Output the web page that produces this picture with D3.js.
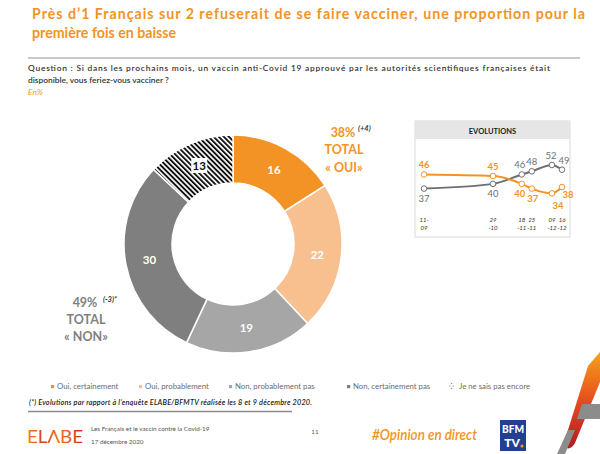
<!DOCTYPE html>
<html><head><meta charset="utf-8">
<script src="https://cdn.jsdelivr.net/npm/d3@7"></script>
<style>html,body{margin:0;padding:0;background:#fff;}svg{display:block;font-family:Lato,"Open Sans",sans-serif;}</style>
</head><body>
<script>
// ---- DATA ----
const categories = ["Oui, certainement","Oui, probablement","Non, probablement pas","Non, certainement pas","Je ne sais pas encore"];
const values = [16, 22, 19, 30, 13];
const sliceColors = ["#F39325","#F9C08F","#A6A6A6","#7F7F7F","hatch"];
const evoDates = ["2020-09-11","2020-10-29","2020-11-18","2020-11-25","2020-12-09","2020-12-16"];
const evoDateLabels = [["11-","09"],["29","-10"],["18","-11"],["25","-11"],["09","-12"],["16","-12"]];
const evoOui = [46, 45, 40, 37, 34, 38];
const evoNon = [37, 40, 46, 48, 52, 49];
const titleLines = ["Près d’1 Français sur 2 refuserait de se faire vacciner, une proportion pour la","première fois en baisse"];
const questionLines = ["Question : Si dans les prochains mois, un vaccin anti-Covid 19 approuvé par les autorités scientifiques françaises était","disponible, vous feriez-vous vacciner ?"];

const W = 600, H = 454;
const orange = "#F39325", grey = "#7F7F7F";
const svg = d3.select("body").append("svg").attr("width", W).attr("height", H);
const defs = svg.append("defs");
const pat = defs.append("pattern").attr("id","hatch").attr("patternUnits","userSpaceOnUse")
  .attr("width",3.6).attr("height",3.6).attr("patternTransform","rotate(-45)");
pat.append("rect").attr("width",3.6).attr("height",3.6).attr("fill","#fff");
pat.append("rect").attr("width",1.9).attr("height",3.6).attr("fill","#111");
const lg = defs.append("linearGradient").attr("id","elabe").attr("x1","0").attr("x2","1");
lg.append("stop").attr("offset","0").attr("stop-color","#F08A1C");
lg.append("stop").attr("offset","0.3").attr("stop-color","#E0301E");
lg.append("stop").attr("offset","0.55").attr("stop-color","#F07A1C");
lg.append("stop").attr("offset","1").attr("stop-color","#D8281E");
const sg = defs.append("linearGradient").attr("id","stripe").attr("x1","0").attr("y1","0").attr("x2","0").attr("y2","1");
sg.append("stop").attr("offset","0").attr("stop-color","#F7A21B");
sg.append("stop").attr("offset","0.55").attr("stop-color","#E2461F");
sg.append("stop").attr("offset","1").attr("stop-color","#B01C22");

// ---- TITLE ----
svg.append("text").attr("x",32).attr("y",19).attr("fill",orange).attr("font-weight","bold")
  .attr("font-size",14.2).attr("textLength",553).attr("lengthAdjust","spacing").text(titleLines[0]);
svg.append("text").attr("x",32).attr("y",38).attr("fill",orange).attr("font-weight","bold")
  .attr("font-size",14.2).text(titleLines[1]);
svg.append("line").attr("x1",28).attr("x2",580).attr("y1",58).attr("y2",58).attr("stroke","#7a7a7a").attr("stroke-width",0.8);
svg.append("text").attr("x",28).attr("y",71).attr("fill","#333").attr("font-weight",600).attr("font-size",8.4)
  .attr("textLength",522).attr("lengthAdjust","spacing").text(questionLines[0]);
svg.append("text").attr("x",28).attr("y",83).attr("fill","#333").attr("font-weight",600).attr("font-size",8.4).text(questionLines[1]);
svg.append("text").attr("x",28).attr("y",95).attr("fill",orange).attr("font-style","italic").attr("font-size",8.4).text("En%");

// ---- DONUT ----
const cx = 233, cy = 244, rOut = 109, rIn = 61;
const pie = d3.pie().sort(null).value(d => d)(values);
const arc = d3.arc().innerRadius(rIn).outerRadius(rOut);
const labelArc = d3.arc().innerRadius((rIn+rOut)/2).outerRadius((rIn+rOut)/2);
const g = svg.append("g").attr("transform",`translate(${cx},${cy})`);
g.selectAll("path.slice").data(pie).join("path").attr("class","slice").attr("d",arc)
  .attr("fill",(d,i)=> sliceColors[i]==="hatch" ? "url(#hatch)" : sliceColors[i])
  .attr("stroke","#fff").attr("stroke-width",1.5);
pie.forEach((d,i)=>{
  const [x,y] = labelArc.centroid(d);
  const isHatch = sliceColors[i]==="hatch";
  if (isHatch) g.append("rect").attr("x",x-8).attr("y",y-8).attr("width",16).attr("height",15).attr("fill","#fff");
  g.append("text").attr("x",x).attr("y",y+4).attr("text-anchor","middle").attr("font-weight","bold")
    .attr("font-size",11.5).attr("fill",isHatch?"#111":"#fff").text(values[i]);
});

// totals
const totOui = values[0]+values[1], totNon = values[2]+values[3];
const tO = svg.append("g").attr("fill",orange).attr("font-weight","bold").attr("font-size",12.5).attr("text-anchor","middle");
tO.append("text").attr("x",343).attr("y",137).text(totOui+"%");
tO.append("text").attr("x",344).attr("y",154).text("TOTAL");
tO.append("text").attr("x",344).attr("y",172).text("« OUI»");
svg.append("text").attr("x",358).attr("y",131).attr("font-size",7.5).attr("font-style","italic").attr("font-weight","bold").attr("fill","#333").text("(+4)");
const tN = svg.append("g").attr("fill",grey).attr("font-weight","bold").attr("font-size",12.5).attr("text-anchor","middle");
tN.append("text").attr("x",85).attr("y",307).text(totNon+"%");
tN.append("text").attr("x",86).attr("y",324).text("TOTAL");
tN.append("text").attr("x",86).attr("y",341).text("« NON»");
svg.append("text").attr("x",103).attr("y",302).attr("font-size",7.5).attr("font-style","italic").attr("font-weight","bold").attr("fill","#333").text("(-3)*");

// ---- EVOLUTIONS ----
const px0 = 415, px1 = 570, py0 = 121, py1 = 237;
svg.append("rect").attr("x",px0).attr("y",py0).attr("width",px1-px0).attr("height",py1-py0).attr("fill","#fff").attr("stroke","#D9D9D9").attr("stroke-width",1);
svg.append("rect").attr("x",px0).attr("y",py0).attr("width",px1-px0).attr("height",18).attr("fill","#E6E6E6");
svg.append("text").attr("x",(px0+px1)/2).attr("y",133.5).attr("text-anchor","middle").attr("font-weight","bold").attr("font-size",7.5).attr("fill","#222").text("EVOLUTIONS");
const parse = d3.timeParse("%Y-%m-%d");
const dates = evoDates.map(parse);
const x = d3.scaleTime().domain(d3.extent(dates)).range([424,562]);
const y = d3.scaleLinear().domain([30,56]).range([199.6,158.7]);
const line = d3.line().x((d,i)=>x(dates[i])).y(d=>y(d)).curve(d3.curveMonotoneX);
function series(vals,color,labelPos,labelBold){
  svg.append("path").attr("d",line(vals)).attr("fill","none").attr("stroke",color).attr("stroke-width",2);
  svg.selectAll(null).data(vals).join("circle").attr("cx",(d,i)=>x(dates[i])).attr("cy",d=>y(d)).attr("r",2.8)
    .attr("fill","#fff").attr("stroke",color).attr("stroke-width",1);
  vals.forEach((v,i)=>{
    const p = labelPos[i];
    svg.append("text").attr("x",x(dates[i])+p[0]).attr("y",y(v)+p[1]).attr("text-anchor","middle")
      .attr("font-size",9.5).attr("font-weight",labelBold?"bold":"normal").attr("fill",color).text(v);
  });
}
series(evoNon, "#6F6F6F", [[0,13],[0,13],[-2,-6],[0,-6],[-1,-6],[2,-6]], false);
series(evoOui, orange, [[0,-6],[0,-6],[-2,13],[1,13],[6,16],[6,11]], true);
evoDateLabels.forEach((l,i)=>{
  l.forEach((s,j)=> svg.append("text").attr("x",x(dates[i])).attr("y",222+j*7.5).attr("text-anchor","middle")
    .attr("font-size",6).attr("font-style","italic").attr("fill","#333").text(s));
});

// ---- LEGEND ----
const legX = [51,139,229,347,450];
categories.forEach((c,i)=>{
  const lgG = svg.append("g").attr("transform",`translate(${legX[i]},389)`);
  if (sliceColors[i]==="hatch") {
    lgG.append("text").attr("x",-1).attr("y",0).attr("font-size",8).attr("fill","#333").text("⁛");
    lgG.append("text").attr("x",9).attr("y",0).attr("font-size",7.8).attr("fill","#6b6b6b").text(c);
  } else {
    lgG.append("rect").attr("x",0).attr("y",-4).attr("width",3.2).attr("height",3.2).attr("fill",sliceColors[i]);
    lgG.append("text").attr("x",6).attr("y",0).attr("font-size",7.8).attr("fill","#6b6b6b").text(c);
  }
});

// ---- FOOTNOTE / FOOTER ----
svg.append("text").attr("x",29).attr("y",405).attr("font-size",7.3).attr("font-style","italic").attr("font-weight",600).attr("fill","#222")
  .attr("textLength",283).attr("lengthAdjust","spacing")
  .text("(*) Evolutions par rapport à l’enquête ELABE/BFMTV réalisée les 8 et 9 décembre 2020.");
svg.append("line").attr("x1",28).attr("x2",292).attr("y1",411.5).attr("y2",411.5).attr("stroke","#8a8a8a").attr("stroke-width",1.3);
svg.append("text").attr("x",27).attr("y",443).attr("font-size",17).attr("font-weight",400)
  .attr("fill","url(#elabe)").attr("textLength",56).attr("lengthAdjust","spacingAndGlyphs").text("ELΛBE");
svg.append("text").attr("x",91).attr("y",431).attr("font-size",6.3).attr("fill","#555").text("Les Français et le vaccin contre la Covid-19");
svg.append("text").attr("x",91).attr("y",444).attr("font-size",6.3).attr("fill","#555").text("17 décembre 2020");
svg.append("text").attr("x",315).attr("y",434).attr("font-size",6.3).attr("fill","#555").attr("text-anchor","middle").text("11");
svg.append("text").attr("x",372).attr("y",440).attr("font-size",14.5).attr("font-style","italic").attr("font-weight",600)
  .attr("fill",orange).attr("textLength",105).attr("lengthAdjust","spacingAndGlyphs").text("#Opinion en direct");
svg.append("rect").attr("x",500).attr("y",420).attr("width",26).attr("height",31).attr("fill","#233F8F");
svg.append("text").attr("x",513).attr("y",433).attr("text-anchor","middle").attr("font-size",11).attr("font-weight",900).attr("fill","#fff")
  .attr("textLength",22).attr("lengthAdjust","spacingAndGlyphs").text("BFM");
svg.append("text").attr("x",512).attr("y",447).attr("text-anchor","middle").attr("font-size",12).attr("font-weight",900).attr("fill","#fff").text("TV");
svg.append("circle").attr("cx",522).attr("cy",446).attr("r",1.6).attr("fill","#F39325");
// decorative stripes
svg.append("path").attr("d","M588,366 L600,352 L600,382 L575,443 Q570,452 563,446 Z").attr("fill","url(#stripe)");
svg.append("path").attr("d","M582,404 L600,404 L600,419 L577,419 Z").attr("fill","#8c8c8c");
svg.append("path").attr("d","M557,454 L568,430 L575,430 L565,454 Z").attr("fill","#8c8c8c");
</script>
</body></html>
